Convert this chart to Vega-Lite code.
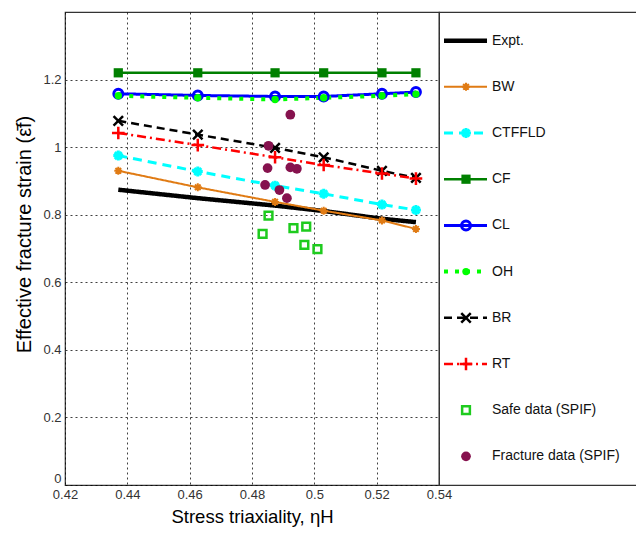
{
  "$schema": "https://vega.github.io/schema/vega-lite/v6.json",
  "padding": {"left": 14, "top": 11, "right": 0, "bottom": 0},
  "background": "white",
  "config": {
    "view": {"stroke": "#333", "strokeWidth": 1.2},
    "font": "Liberation Sans",
    "concat": {"spacing": 0}
  },
  "datasets": {
    "pts": [
      {"series": "Expt.", "eta": 0.4371, "eps": 0.874},
      {"series": "Expt.", "eta": 0.4626, "eps": 0.849},
      {"series": "Expt.", "eta": 0.4874, "eps": 0.827},
      {"series": "Expt.", "eta": 0.5030, "eps": 0.811},
      {"series": "Expt.", "eta": 0.5217, "eps": 0.788},
      {"series": "Expt.", "eta": 0.5326, "eps": 0.778},
      {"series": "BW", "eta": 0.4371, "eps": 0.930},
      {"series": "BW", "eta": 0.4626, "eps": 0.881},
      {"series": "BW", "eta": 0.4874, "eps": 0.838},
      {"series": "BW", "eta": 0.5030, "eps": 0.812},
      {"series": "BW", "eta": 0.5217, "eps": 0.783},
      {"series": "BW", "eta": 0.5326, "eps": 0.758},
      {"series": "CTFFLD", "eta": 0.4371, "eps": 0.975},
      {"series": "CTFFLD", "eta": 0.4626, "eps": 0.928},
      {"series": "CTFFLD", "eta": 0.4874, "eps": 0.886},
      {"series": "CTFFLD", "eta": 0.5030, "eps": 0.862},
      {"series": "CTFFLD", "eta": 0.5217, "eps": 0.830},
      {"series": "CTFFLD", "eta": 0.5326, "eps": 0.814},
      {"series": "CF", "eta": 0.4371, "eps": 1.22},
      {"series": "CF", "eta": 0.4626, "eps": 1.22},
      {"series": "CF", "eta": 0.4874, "eps": 1.22},
      {"series": "CF", "eta": 0.5030, "eps": 1.22},
      {"series": "CF", "eta": 0.5217, "eps": 1.22},
      {"series": "CF", "eta": 0.5326, "eps": 1.22},
      {"series": "CL", "eta": 0.4371, "eps": 1.158},
      {"series": "CL", "eta": 0.4626, "eps": 1.153},
      {"series": "CL", "eta": 0.4874, "eps": 1.150},
      {"series": "CL", "eta": 0.5030, "eps": 1.150},
      {"series": "CL", "eta": 0.5217, "eps": 1.158},
      {"series": "CL", "eta": 0.5326, "eps": 1.163},
      {"series": "OH", "eta": 0.4371, "eps": 1.152},
      {"series": "OH", "eta": 0.4626, "eps": 1.146},
      {"series": "OH", "eta": 0.4874, "eps": 1.141},
      {"series": "OH", "eta": 0.5030, "eps": 1.146},
      {"series": "OH", "eta": 0.5217, "eps": 1.152},
      {"series": "OH", "eta": 0.5326, "eps": 1.157},
      {"series": "BR", "eta": 0.4371, "eps": 1.078},
      {"series": "BR", "eta": 0.4626, "eps": 1.037},
      {"series": "BR", "eta": 0.4874, "eps": 0.998},
      {"series": "BR", "eta": 0.5030, "eps": 0.970},
      {"series": "BR", "eta": 0.5217, "eps": 0.930},
      {"series": "BR", "eta": 0.5326, "eps": 0.909},
      {"series": "RT", "eta": 0.4371, "eps": 1.042},
      {"series": "RT", "eta": 0.4626, "eps": 1.006},
      {"series": "RT", "eta": 0.4874, "eps": 0.970},
      {"series": "RT", "eta": 0.5030, "eps": 0.947},
      {"series": "RT", "eta": 0.5217, "eps": 0.922},
      {"series": "RT", "eta": 0.5326, "eps": 0.907},
      {"series": "Safe data (SPIF)", "eta": 0.4853, "eps": 0.797},
      {"series": "Safe data (SPIF)", "eta": 0.4834, "eps": 0.743},
      {"series": "Safe data (SPIF)", "eta": 0.4933, "eps": 0.760},
      {"series": "Safe data (SPIF)", "eta": 0.4974, "eps": 0.765},
      {"series": "Safe data (SPIF)", "eta": 0.4968, "eps": 0.711},
      {"series": "Safe data (SPIF)", "eta": 0.5010, "eps": 0.698},
      {"series": "Fracture data (SPIF)", "eta": 0.4923, "eps": 1.096},
      {"series": "Fracture data (SPIF)", "eta": 0.4853, "eps": 1.004},
      {"series": "Fracture data (SPIF)", "eta": 0.4850, "eps": 0.938},
      {"series": "Fracture data (SPIF)", "eta": 0.4923, "eps": 0.940},
      {"series": "Fracture data (SPIF)", "eta": 0.4944, "eps": 0.936},
      {"series": "Fracture data (SPIF)", "eta": 0.4842, "eps": 0.888},
      {"series": "Fracture data (SPIF)", "eta": 0.4888, "eps": 0.873},
      {"series": "Fracture data (SPIF)", "eta": 0.4912, "eps": 0.849}
    ],
    "leg": [
      {"series": "Expt."}, {"series": "BW"}, {"series": "CTFFLD"}, {"series": "CF"}, {"series": "CL"},
      {"series": "OH"}, {"series": "BR"}, {"series": "RT"}, {"series": "Safe data (SPIF)"}, {"series": "Fracture data (SPIF)"}
    ]
  },
  "hconcat": [
    {
      "width": 374,
      "height": 473,
      "data": {"name": "pts"},
      "encoding": {
        "x": {
          "field": "eta", "type": "quantitative",
          "scale": {"domain": [0.42, 0.54], "nice": false, "zero": false},
          "axis": {
            "values": [0.42, 0.44, 0.46, 0.48, 0.5, 0.52, 0.54],
            "format": "~g",
            "title": "Stress triaxiality, ηH",
            "titleFontSize": 18.5, "titleFontWeight": "normal", "titleColor": "#000",
            "titlePadding": 6,
            "labelFontSize": 13, "labelColor": "#333", "labelPadding": 3,
            "ticks": false, "domain": false,
            "grid": true, "gridColor": "#000", "gridDash": [2, 3], "gridOpacity": 0.75, "gridWidth": 1,
            "labelFlush": false
          }
        },
        "y": {
          "field": "eps", "type": "quantitative",
          "scale": {"domain": [0, 1.4], "nice": false},
          "axis": {
            "values": [0, 0.2, 0.4, 0.6, 0.8, 1, 1.2],
            "format": "~g",
            "title": "Effective fracture strain  (ε̄f)",
            "titleFontSize": 20, "titleFontWeight": "normal", "titleColor": "#000",
            "titlePadding": 8, "titleY": 222,
            "labelFontSize": 13, "labelColor": "#333", "labelPadding": 4,
            "ticks": false, "domain": false,
            "grid": true, "gridColor": "#000", "gridDash": [2, 3], "gridOpacity": 0.75, "gridWidth": 1,
            "labelFlush": true
          }
        },
        "color": {
          "field": "series", "type": "nominal", "legend": null,
          "scale": {
            "domain": ["Expt.", "BW", "CTFFLD", "CF", "CL", "OH", "BR", "RT", "Safe data (SPIF)", "Fracture data (SPIF)"],
            "range": ["#000000", "#E07B14", "#00FFFF", "#008000", "#0000FF", "#00FF00", "#000000", "#FF0000", "#1ECB1E", "#86124E"]
          }
        },
        "strokeWidth": {
          "field": "series", "type": "nominal", "legend": null,
          "scale": {
            "type": "ordinal",
            "domain": ["Expt.", "BW", "CTFFLD", "CF", "CL", "OH", "BR", "RT", "Safe data (SPIF)", "Fracture data (SPIF)"],
            "range": [4.5, 2, 3, 2.5, 3, 4, 2.5, 2.5, 2.5, 1]
          }
        }
      },
      "layer": [
        {
          "transform": [{"filter": "datum.series !== 'Safe data (SPIF)' && datum.series !== 'Fracture data (SPIF)'"}],
          "mark": {"type": "line", "clip": false},
          "encoding": {
            "strokeDash": {
              "field": "series", "type": "nominal", "legend": null,
              "scale": {
                "domain": ["Expt.", "BW", "CTFFLD", "CF", "CL", "OH", "BR", "RT", "Safe data (SPIF)", "Fracture data (SPIF)"],
                "range": [[1, 0], [1, 0], [9, 6], [1, 0], [1, 0], [4, 7], [8, 5], [9, 4, 2, 4], [1, 0], [1, 0]]
              }
            }
          }
        },
        {
          "transform": [{"filter": "indexof(['BW','CTFFLD','CL','BR','RT','Safe data (SPIF)'], datum.series) >= 0"}],
          "mark": {"type": "point", "filled": false, "opacity": 1, "clip": false},
          "encoding": {
            "shape": {
              "field": "series", "type": "nominal", "legend": null,
              "scale": {
                "domain": ["Expt.", "BW", "CTFFLD", "CF", "CL", "OH", "BR", "RT", "Safe data (SPIF)", "Fracture data (SPIF)"],
                "range": [
                  "circle",
                  "M-1,0L1,0M0,-1L0,1M-0.7,-0.7L0.7,0.7M-0.7,0.7L0.7,-0.7",
                  "M-1,0L1,0M0,-1L0,1M-0.7,-0.7L0.7,0.7M-0.7,0.7L0.7,-0.7",
                  "square",
                  "circle",
                  "circle",
                  "M-1,-1L1,1M-1,1L1,-1",
                  "M-1,0L1,0M0,-1L0,1",
                  "square",
                  "circle"
                ]
              }
            },
            "size": {
              "field": "series", "type": "nominal", "legend": null,
              "scale": {
                "type": "ordinal",
                "domain": ["Expt.", "BW", "CTFFLD", "CF", "CL", "OH", "BR", "RT", "Safe data (SPIF)", "Fracture data (SPIF)"],
                "range": [10, 64, 100, 85, 80, 55, 90, 160, 60, 95]
              }
            }
          }
        },
        {
          "transform": [{"filter": "indexof(['CF','OH','Fracture data (SPIF)'], datum.series) >= 0"}],
          "mark": {"type": "point", "filled": true, "opacity": 1, "clip": false},
          "encoding": {
            "shape": {
              "field": "series", "type": "nominal", "legend": null,
              "scale": {
                "domain": ["Expt.", "BW", "CTFFLD", "CF", "CL", "OH", "BR", "RT", "Safe data (SPIF)", "Fracture data (SPIF)"],
                "range": [
                  "circle",
                  "M-1,0L1,0M0,-1L0,1M-0.7,-0.7L0.7,0.7M-0.7,0.7L0.7,-0.7",
                  "M-1,0L1,0M0,-1L0,1M-0.7,-0.7L0.7,0.7M-0.7,0.7L0.7,-0.7",
                  "square",
                  "circle",
                  "circle",
                  "M-1,-1L1,1M-1,1L1,-1",
                  "M-1,0L1,0M0,-1L0,1",
                  "square",
                  "circle"
                ]
              }
            },
            "size": {
              "field": "series", "type": "nominal", "legend": null,
              "scale": {
                "type": "ordinal",
                "domain": ["Expt.", "BW", "CTFFLD", "CF", "CL", "OH", "BR", "RT", "Safe data (SPIF)", "Fracture data (SPIF)"],
                "range": [10, 64, 100, 85, 80, 55, 90, 160, 60, 95]
              }
            }
          }
        }
      ]
    },
    {
      "width": 200,
      "height": 473,
      "data": {"name": "leg"},
      "encoding": {
        "y": {
          "field": "series", "type": "nominal", "axis": null,
          "sort": ["Expt.", "BW", "CTFFLD", "CF", "CL", "OH", "BR", "RT", "Safe data (SPIF)", "Fracture data (SPIF)"],
          "scale": {"type": "point", "padding": 0.62}
        },
        "color": {
          "field": "series", "type": "nominal", "legend": null,
          "scale": {
            "domain": ["Expt.", "BW", "CTFFLD", "CF", "CL", "OH", "BR", "RT", "Safe data (SPIF)", "Fracture data (SPIF)"],
            "range": ["#000000", "#E07B14", "#00FFFF", "#008000", "#0000FF", "#00FF00", "#000000", "#FF0000", "#1ECB1E", "#86124E"]
          }
        },
        "strokeWidth": {
          "field": "series", "type": "nominal", "legend": null,
          "scale": {
            "type": "ordinal",
            "domain": ["Expt.", "BW", "CTFFLD", "CF", "CL", "OH", "BR", "RT", "Safe data (SPIF)", "Fracture data (SPIF)"],
            "range": [4.5, 2, 3, 2.5, 3, 4, 2.5, 2.5, 2.5, 1]
          }
        }
      },
      "layer": [
        {
          "transform": [{"filter": "datum.series !== 'Safe data (SPIF)' && datum.series !== 'Fracture data (SPIF)'"}],
          "mark": {"type": "rule"},
          "encoding": {
            "x": {"datum": 0.025, "type": "quantitative", "scale": {"domain": [0, 1], "nice": false}, "axis": null},
            "x2": {"datum": 0.24},
            "strokeDash": {
              "field": "series", "type": "nominal", "legend": null,
              "scale": {
                "domain": ["Expt.", "BW", "CTFFLD", "CF", "CL", "OH", "BR", "RT", "Safe data (SPIF)", "Fracture data (SPIF)"],
                "range": [[1, 0], [1, 0], [9, 6], [1, 0], [1, 0], [4, 7], [8, 5], [9, 4, 2, 4], [1, 0], [1, 0]]
              }
            }
          }
        },
        {
          "transform": [{"filter": "indexof(['BW','CTFFLD','CL','BR','RT','Safe data (SPIF)'], datum.series) >= 0"}],
          "mark": {"type": "point", "filled": false, "opacity": 1},
          "encoding": {
            "x": {"datum": 0.135, "type": "quantitative", "scale": {"domain": [0, 1], "nice": false}, "axis": null},
            "shape": {
              "field": "series", "type": "nominal", "legend": null,
              "scale": {
                "domain": ["Expt.", "BW", "CTFFLD", "CF", "CL", "OH", "BR", "RT", "Safe data (SPIF)", "Fracture data (SPIF)"],
                "range": [
                  "circle",
                  "M-1,0L1,0M0,-1L0,1M-0.7,-0.7L0.7,0.7M-0.7,0.7L0.7,-0.7",
                  "M-1,0L1,0M0,-1L0,1M-0.7,-0.7L0.7,0.7M-0.7,0.7L0.7,-0.7",
                  "square",
                  "circle",
                  "circle",
                  "M-1,-1L1,1M-1,1L1,-1",
                  "M-1,0L1,0M0,-1L0,1",
                  "square",
                  "circle"
                ]
              }
            },
            "size": {
              "field": "series", "type": "nominal", "legend": null,
              "scale": {
                "type": "ordinal",
                "domain": ["Expt.", "BW", "CTFFLD", "CF", "CL", "OH", "BR", "RT", "Safe data (SPIF)", "Fracture data (SPIF)"],
                "range": [10, 64, 100, 85, 80, 55, 90, 160, 60, 95]
              }
            }
          }
        },
        {
          "transform": [{"filter": "indexof(['CF','OH','Fracture data (SPIF)'], datum.series) >= 0"}],
          "mark": {"type": "point", "filled": true, "opacity": 1},
          "encoding": {
            "x": {"datum": 0.135, "type": "quantitative", "scale": {"domain": [0, 1], "nice": false}, "axis": null},
            "shape": {
              "field": "series", "type": "nominal", "legend": null,
              "scale": {
                "domain": ["Expt.", "BW", "CTFFLD", "CF", "CL", "OH", "BR", "RT", "Safe data (SPIF)", "Fracture data (SPIF)"],
                "range": [
                  "circle",
                  "M-1,0L1,0M0,-1L0,1M-0.7,-0.7L0.7,0.7M-0.7,0.7L0.7,-0.7",
                  "M-1,0L1,0M0,-1L0,1M-0.7,-0.7L0.7,0.7M-0.7,0.7L0.7,-0.7",
                  "square",
                  "circle",
                  "circle",
                  "M-1,-1L1,1M-1,1L1,-1",
                  "M-1,0L1,0M0,-1L0,1",
                  "square",
                  "circle"
                ]
              }
            },
            "size": {
              "field": "series", "type": "nominal", "legend": null,
              "scale": {
                "type": "ordinal",
                "domain": ["Expt.", "BW", "CTFFLD", "CF", "CL", "OH", "BR", "RT", "Safe data (SPIF)", "Fracture data (SPIF)"],
                "range": [10, 64, 100, 85, 80, 55, 90, 160, 60, 95]
              }
            }
          }
        },
        {
          "mark": {"type": "text", "align": "left", "baseline": "middle", "fontSize": 14, "fill": "#111"},
          "encoding": {
            "x": {"datum": 0.265, "type": "quantitative", "scale": {"domain": [0, 1], "nice": false}, "axis": null},
            "text": {"field": "series"},
            "color": {"value": "#111"},
            "strokeWidth": {"value": 0}
          }
        }
      ]
    }
  ],
  "resolve": {"scale": {"x": "independent", "y": "independent", "color": "shared", "shape": "shared", "size": "shared", "strokeDash": "shared", "strokeWidth": "shared"}},
  "bounds": "flush"
}
